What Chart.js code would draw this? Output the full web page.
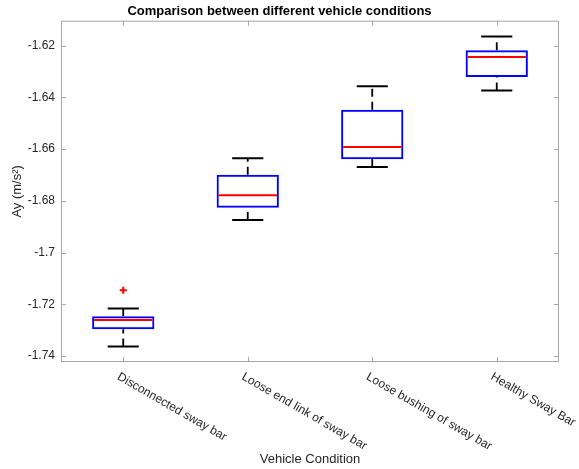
<!DOCTYPE html>
<html>
<head>
<meta charset="utf-8">
<script src="https://cdn.jsdelivr.net/npm/chart.js@4.4.1/dist/chart.umd.min.js"></script>
<style>
    html, body { margin: 0; padding: 0; background: #fff; }
</style>
</head>
<body>
<canvas id="boxChart" width="579" height="469"></canvas>
<script>
const condicoes = ["Disconnected sway bar", "Loose end link of sway bar", "Loose bushing of sway bar", "Healthy Sway Bar"];
const whiskerLow = [-1.7363, -1.6874, -1.6669, -1.6374];
const q1 = [-1.7296, -1.6827, -1.6639, -1.6322];
const medians = [-1.7261, -1.6779, -1.6592, -1.6244];
const q3 = [-1.7246, -1.6699, -1.6448, -1.6218];
const whiskerHigh = [-1.7216, -1.6636, -1.6357, -1.6165];
const outliers = [-1.7146, null, null, null];
const yTicks = [-1.74, -1.72, -1.7, -1.68, -1.66, -1.64, -1.62];

Chart.defaults.font.family = '"Liberation Sans", Arial, Helvetica, sans-serif';
Chart.defaults.color = "#262626";

// whiskers, caps, medians, frame and slanted labels
const boxExtras = {
    id: "boxExtras",
    afterDatasetsDraw(chart) {
        const ctx = chart.ctx;
        const x = chart.scales.x;
        const y = chart.scales.y;
        const area = chart.chartArea;
        const catWidth = x.getPixelForValue(1) - x.getPixelForValue(0);
        const capHalf = catWidth * 0.125;
        const boxHalf = catWidth * 0.25;

        ctx.save();
        for (let i = 0; i < condicoes.length; i++) {
            const cx = x.getPixelForValue(i);

            ctx.strokeStyle = "#000";
            ctx.lineWidth = 1.8;
            ctx.setLineDash([8, 5]);
            ctx.beginPath();
            ctx.moveTo(cx, y.getPixelForValue(whiskerLow[i]));
            ctx.lineTo(cx, y.getPixelForValue(q1[i]));
            ctx.stroke();
            ctx.beginPath();
            ctx.moveTo(cx, y.getPixelForValue(q3[i]));
            ctx.lineTo(cx, y.getPixelForValue(whiskerHigh[i]));
            ctx.stroke();

            ctx.setLineDash([]);
            ctx.lineWidth = 2;
            ctx.beginPath();
            ctx.moveTo(cx - capHalf, y.getPixelForValue(whiskerLow[i]));
            ctx.lineTo(cx + capHalf, y.getPixelForValue(whiskerLow[i]));
            ctx.moveTo(cx - capHalf, y.getPixelForValue(whiskerHigh[i]));
            ctx.lineTo(cx + capHalf, y.getPixelForValue(whiskerHigh[i]));
            ctx.stroke();

            ctx.strokeStyle = "#ff0000";
            ctx.beginPath();
            ctx.moveTo(cx - boxHalf + 2, y.getPixelForValue(medians[i]));
            ctx.lineTo(cx + boxHalf - 2, y.getPixelForValue(medians[i]));
            ctx.stroke();
        }

        ctx.strokeStyle = "#a6a6a6";
        ctx.lineWidth = 1;
        ctx.strokeRect(area.left + 0.5, area.top + 0.5, area.right - area.left - 1, area.bottom - area.top - 1);

        ctx.beginPath();
        for (let i = 0; i < yTicks.length; i++) {
            const py = Math.round(y.getPixelForValue(yTicks[i])) + 0.5;
            ctx.moveTo(area.left, py);
            ctx.lineTo(area.left + 5, py);
            ctx.moveTo(area.right, py);
            ctx.lineTo(area.right - 5, py);
        }
        for (let i = 0; i < condicoes.length; i++) {
            const px = Math.round(x.getPixelForValue(i)) + 0.5;
            ctx.moveTo(px, area.top);
            ctx.lineTo(px, area.top + 5);
            ctx.moveTo(px, area.bottom);
            ctx.lineTo(px, area.bottom - 5);
        }
        ctx.stroke();

        ctx.fillStyle = "#262626";
        ctx.font = '12px "Liberation Sans", Arial, sans-serif';
        ctx.textAlign = "left";
        ctx.textBaseline = "middle";
        for (let i = 0; i < condicoes.length; i++) {
            ctx.save();
            ctx.translate(x.getPixelForValue(i) - 5, area.bottom + 14);
            ctx.rotate(Math.PI / 6);
            ctx.fillText(condicoes[i], 0, 0);
            ctx.restore();
        }
        ctx.restore();
    }
};

const caixas = [];
for (let i = 0; i < condicoes.length; i++) {
    caixas.push([q1[i], q3[i]]);
}

new Chart(document.getElementById("boxChart"), {
    type: "bar",
    data: {
        labels: condicoes,
        datasets: [
            {
                label: "IQR",
                data: caixas,
                backgroundColor: "rgba(0,0,0,0)",
                borderColor: "#0000ff",
                borderWidth: 2,
                borderSkipped: false,
                barPercentage: 0.5,
                categoryPercentage: 1
            },
            {
                type: "line",
                label: "Outliers",
                data: outliers,
                showLine: false,
                pointStyle: "cross",
                pointRadius: 3.5,
                borderColor: "#ff0000",
                borderWidth: 2
            }
        ]
    },
    options: {
        responsive: false,
        animation: false,
        layout: { padding: { left: 0, right: 20, top: 0, bottom: 0 } },
        plugins: {
            legend: { display: false },
            tooltip: { enabled: false },
            title: {
                display: true,
                text: "Comparison between different vehicle conditions",
                color: "#000",
                font: { size: 13, weight: "bold" },
                padding: { top: 4, bottom: 1.1 }
            }
        },
        scales: {
            x: {
                grid: { display: false, drawTicks: false, tickLength: 0 },
                border: { display: false },
                ticks: { display: false },
                title: {
                    display: true,
                    text: "Vehicle Condition",
                    font: { size: 13 },
                    padding: { top: 89.2, bottom: 2.2 }
                }
            },
            y: {
                min: -1.7423,
                max: -1.6104,
                grid: { display: false, drawTicks: false, tickLength: 0 },
                border: { display: false },
                afterBuildTicks: (scale) => {
                    scale.ticks = yTicks.map(v => ({ value: v }));
                },
                afterFit: (scale) => {
                    scale.width = 61;
                },
                ticks: {
                    padding: 6,
                    font: { size: 12 },
                    callback: (v) => String(+v.toFixed(2))
                },
                title: {
                    display: true,
                    text: "Ay (m/s²)",
                    font: { size: 13 },
                    padding: { top: 10, bottom: 0 }
                }
            }
        }
    },
    plugins: [boxExtras]
});
</script>
</body>
</html>
